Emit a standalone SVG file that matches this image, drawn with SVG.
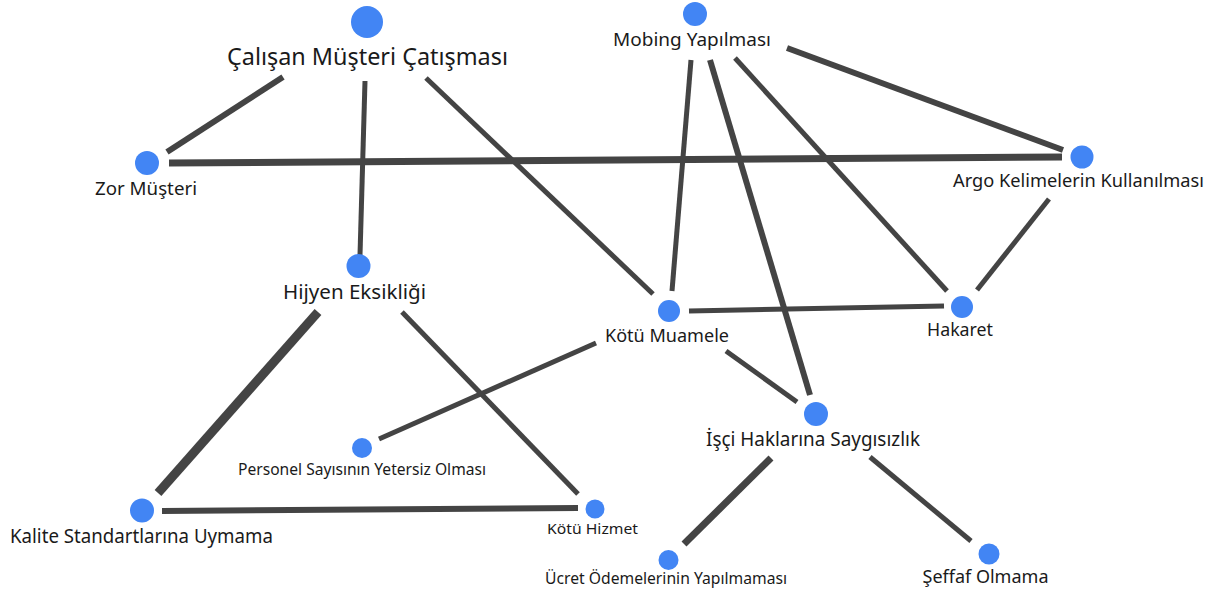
<svg xmlns="http://www.w3.org/2000/svg" width="1218" height="597" viewBox="0 0 1218 597">
  <style>
    .bg { fill: #ffffff; }
    .edge { stroke: #444444; stroke-linecap: butt; fill: none; }
    .dot { fill: #4285f4; }
    .lbl { font-family: "Noto Sans", "Open Sans", "DejaVu Sans", sans-serif; fill: #1a1a1a; }
  </style>
  <rect class="bg" x="0" y="0" width="1218" height="597"/>

  <g id="edges">
    <line class="edge" x1="283" y1="77" x2="167" y2="152" stroke-width="6"/>
    <line class="edge" x1="365" y1="81" x2="360" y2="255" stroke-width="5"/>
    <line class="edge" x1="426" y1="78" x2="653" y2="294" stroke-width="5"/>
    <line class="edge" x1="169" y1="163" x2="1062" y2="157" stroke-width="7"/>
    <line class="edge" x1="787" y1="48" x2="1063" y2="150" stroke-width="6"/>
    <line class="edge" x1="691" y1="60" x2="672" y2="291" stroke-width="5"/>
    <line class="edge" x1="710" y1="60" x2="810" y2="395" stroke-width="6"/>
    <line class="edge" x1="735" y1="58" x2="947" y2="291" stroke-width="5"/>
    <line class="edge" x1="1049" y1="199" x2="977" y2="290" stroke-width="5"/>
    <line class="edge" x1="689" y1="311" x2="944" y2="306" stroke-width="5"/>
    <line class="edge" x1="596" y1="343" x2="379" y2="439" stroke-width="5"/>
    <line class="edge" x1="726" y1="351" x2="797" y2="402" stroke-width="5"/>
    <line class="edge" x1="318" y1="312" x2="158" y2="493" stroke-width="9"/>
    <line class="edge" x1="402" y1="312" x2="578" y2="494" stroke-width="5"/>
    <line class="edge" x1="162" y1="511" x2="578" y2="508" stroke-width="6"/>
    <line class="edge" x1="771" y1="458" x2="684" y2="544" stroke-width="7"/>
    <line class="edge" x1="870" y1="457" x2="971" y2="541" stroke-width="5"/>
  </g>

  <g id="node-calisan-musteri-catismasi">
    <circle class="dot" cx="367" cy="22" r="16"/>
    <text class="lbl" x="227" y="65" font-size="23" textLength="281" lengthAdjust="spacingAndGlyphs">Çalışan Müşteri Çatışması</text>
  </g>
  <g id="node-zor-musteri">
    <circle class="dot" cx="147" cy="163" r="12"/>
    <text class="lbl" x="95" y="195" font-size="18" textLength="102" lengthAdjust="spacingAndGlyphs">Zor Müşteri</text>
  </g>
  <g id="node-mobing-yapilmasi">
    <circle class="dot" cx="695" cy="14" r="12"/>
    <text class="lbl" x="613" y="46" font-size="18" textLength="158" lengthAdjust="spacingAndGlyphs">Mobing Yapılması</text>
  </g>
  <g id="node-argo-kelimelerin-kullanilmasi">
    <circle class="dot" cx="1082" cy="157" r="11.5"/>
    <text class="lbl" x="953" y="187" font-size="18" textLength="251" lengthAdjust="spacingAndGlyphs">Argo Kelimelerin Kullanılması</text>
  </g>
  <g id="node-hijyen-eksikligi">
    <circle class="dot" cx="358.5" cy="266" r="12"/>
    <text class="lbl" x="283" y="299" font-size="20" textLength="143" lengthAdjust="spacingAndGlyphs">Hijyen Eksikliği</text>
  </g>
  <g id="node-kotu-muamele">
    <circle class="dot" cx="669" cy="311" r="11"/>
    <text class="lbl" x="605" y="341.5" font-size="18" textLength="124" lengthAdjust="spacingAndGlyphs">Kötü Muamele</text>
  </g>
  <g id="node-hakaret">
    <circle class="dot" cx="962" cy="307" r="11"/>
    <text class="lbl" x="927" y="336" font-size="18" textLength="66" lengthAdjust="spacingAndGlyphs">Hakaret</text>
  </g>
  <g id="node-isci-haklarina-saygisizlik">
    <circle class="dot" cx="816" cy="414" r="12"/>
    <text class="lbl" x="706" y="445.5" font-size="19" textLength="214" lengthAdjust="spacingAndGlyphs">İşçi Haklarına Saygısızlık</text>
  </g>
  <g id="node-personel-sayisinin-yetersiz-olmasi">
    <circle class="dot" cx="362" cy="448" r="10"/>
    <text class="lbl" x="238" y="475" font-size="17" textLength="248" lengthAdjust="spacingAndGlyphs">Personel Sayısının Yetersiz Olması</text>
  </g>
  <g id="node-kalite-standartlarina-uymama">
    <circle class="dot" cx="142" cy="510.5" r="12"/>
    <text class="lbl" x="10" y="542.5" font-size="20" textLength="263" lengthAdjust="spacingAndGlyphs">Kalite Standartlarına Uymama</text>
  </g>
  <g id="node-kotu-hizmet">
    <circle class="dot" cx="595" cy="509" r="9.5"/>
    <text class="lbl" x="547" y="534" font-size="15" textLength="91" lengthAdjust="spacingAndGlyphs">Kötü Hizmet</text>
  </g>
  <g id="node-ucret-odemelerinin-yapilmamasi">
    <circle class="dot" cx="668.5" cy="560" r="10"/>
    <text class="lbl" x="545" y="584" font-size="15.5" textLength="242" lengthAdjust="spacingAndGlyphs">Ücret Ödemelerinin Yapılmaması</text>
  </g>
  <g id="node-seffaf-olmama">
    <circle class="dot" cx="989" cy="554" r="10.5"/>
    <text class="lbl" x="922.5" y="583" font-size="18" textLength="126" lengthAdjust="spacingAndGlyphs">Şeffaf Olmama</text>
  </g>
</svg>
